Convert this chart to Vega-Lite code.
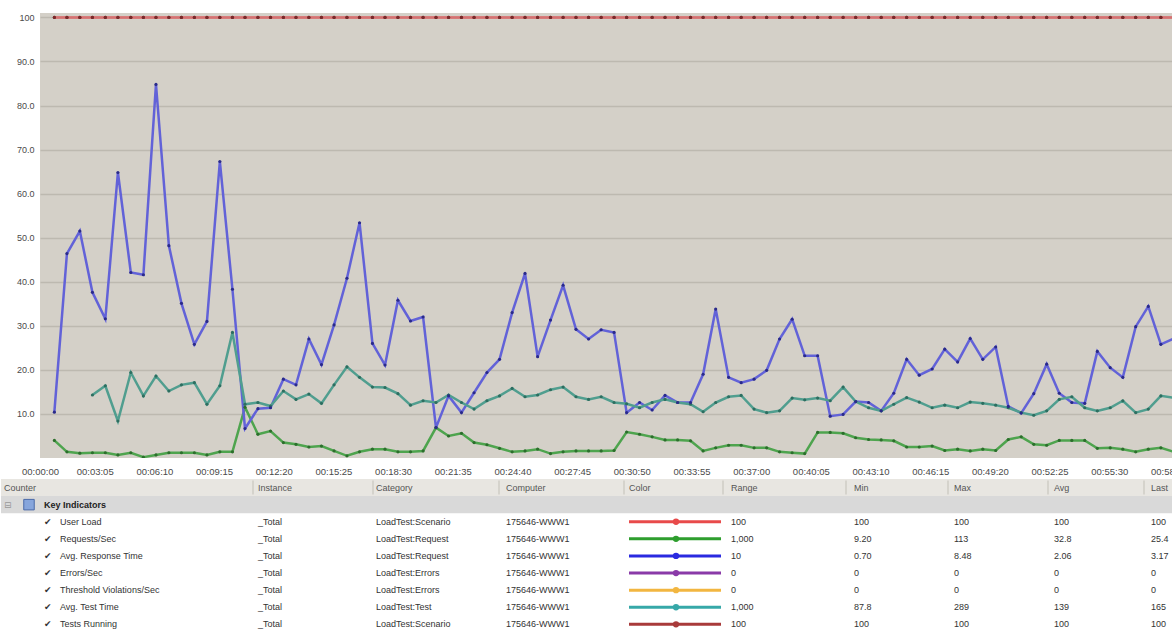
{
"$schema":"https://vega.github.io/schema/vega-lite/v6.json",
"background":"white",
"padding":{"left":0,"top":13,"right":0,"bottom":0},
"bounds":"flush",
"spacing":21,
"config":{"view":{"stroke":null},"font":"Liberation Sans"},
"resolve":{"scale":{"color":"independent","stroke":"independent","fill":"independent"}},
"datasets":{
"series":[
{"t":60,"resp":10.4,"rps":4.0,"user":100,"run":100},
{"t":99,"resp":46.4,"rps":1.4,"user":100,"run":100},
{"t":139,"resp":51.5,"rps":1.1,"user":100,"run":100},
{"t":178,"resp":37.6,"test":14.3,"rps":1.2,"user":100,"run":100},
{"t":218,"resp":31.6,"test":16.4,"rps":1.2,"user":100,"run":100},
{"t":257,"resp":64.8,"test":8.4,"rps":0.7,"user":100,"run":100},
{"t":297,"resp":42.1,"test":19.4,"rps":1.2,"user":100,"run":100},
{"t":336,"resp":41.6,"test":14.1,"rps":0.2,"user":100,"run":100},
{"t":375,"resp":84.8,"test":18.6,"rps":0.7,"user":100,"run":100},
{"t":415,"resp":48.2,"test":15.2,"rps":1.2,"user":100,"run":100},
{"t":454,"resp":35.1,"test":16.6,"rps":1.2,"user":100,"run":100},
{"t":494,"resp":25.8,"test":17.1,"rps":1.2,"user":100,"run":100},
{"t":533,"resp":31.0,"test":12.2,"rps":0.7,"user":100,"run":100},
{"t":573,"resp":67.3,"test":16.4,"rps":1.4,"user":100,"run":100},
{"t":612,"resp":38.3,"test":28.5,"rps":1.4,"user":100,"run":100},
{"t":651,"resp":6.7,"test":12.2,"rps":11.5,"user":100,"run":100},
{"t":691,"resp":11.2,"test":12.6,"rps":5.4,"user":100,"run":100},
{"t":730,"resp":11.4,"test":11.8,"rps":6.1,"user":100,"run":100},
{"t":770,"resp":17.9,"test":15.2,"rps":3.5,"user":100,"run":100},
{"t":809,"resp":16.6,"test":13.3,"rps":3.1,"user":100,"run":100},
{"t":849,"resp":27.0,"test":14.5,"rps":2.5,"user":100,"run":100},
{"t":888,"resp":21.2,"test":12.4,"rps":2.7,"user":100,"run":100},
{"t":927,"resp":30.2,"test":16.6,"rps":1.6,"user":100,"run":100},
{"t":967,"resp":40.8,"test":20.7,"rps":0.5,"user":100,"run":100},
{"t":1006,"resp":53.4,"test":18.3,"rps":1.4,"user":100,"run":100},
{"t":1046,"resp":26.0,"test":16.1,"rps":2.0,"user":100,"run":100},
{"t":1085,"resp":21.1,"test":16.0,"rps":2.0,"user":100,"run":100},
{"t":1125,"resp":35.8,"test":14.6,"rps":1.4,"user":100,"run":100},
{"t":1164,"resp":31.1,"test":12.0,"rps":1.4,"user":100,"run":100},
{"t":1203,"resp":32.0,"test":13.0,"rps":1.6,"user":100,"run":100},
{"t":1243,"resp":6.9,"test":12.6,"rps":6.9,"user":100,"run":100},
{"t":1282,"resp":14.1,"test":14.3,"rps":5.0,"user":100,"run":100},
{"t":1322,"resp":10.3,"test":12.6,"rps":5.6,"user":100,"run":100},
{"t":1361,"resp":14.8,"test":11.1,"rps":3.5,"user":100,"run":100},
{"t":1401,"resp":19.4,"test":13.0,"rps":3.0,"user":100,"run":100},
{"t":1440,"resp":22.4,"test":14.1,"rps":2.2,"user":100,"run":100},
{"t":1479,"resp":33.0,"test":15.8,"rps":1.4,"user":100,"run":100},
{"t":1519,"resp":41.9,"test":13.9,"rps":1.6,"user":100,"run":100},
{"t":1558,"resp":23.0,"test":14.3,"rps":2.0,"user":100,"run":100},
{"t":1598,"resp":31.3,"test":15.5,"rps":1.0,"user":100,"run":100},
{"t":1637,"resp":39.2,"test":16.1,"rps":1.4,"user":100,"run":100},
{"t":1677,"resp":29.2,"test":13.9,"rps":1.6,"user":100,"run":100},
{"t":1716,"resp":27.0,"test":13.3,"rps":1.6,"user":100,"run":100},
{"t":1755,"resp":29.1,"test":13.9,"rps":1.6,"user":100,"run":100},
{"t":1795,"resp":28.5,"test":12.6,"rps":1.7,"user":100,"run":100},
{"t":1834,"resp":10.3,"test":12.3,"rps":5.9,"user":100,"run":100},
{"t":1874,"resp":12.6,"test":11.4,"rps":5.4,"user":100,"run":100},
{"t":1913,"resp":10.9,"test":12.6,"rps":4.8,"user":100,"run":100},
{"t":1953,"resp":14.2,"test":13.3,"rps":4.1,"user":100,"run":100},
{"t":1992,"resp":12.6,"test":12.6,"rps":4.1,"user":100,"run":100},
{"t":2032,"resp":12.6,"test":12.2,"rps":3.9,"user":100,"run":100},
{"t":2071,"resp":19.0,"test":10.5,"rps":1.6,"user":100,"run":100},
{"t":2110,"resp":33.8,"test":12.6,"rps":2.3,"user":100,"run":100},
{"t":2150,"resp":18.3,"test":13.9,"rps":2.9,"user":100,"run":100},
{"t":2189,"resp":17.1,"test":14.2,"rps":2.9,"user":100,"run":100},
{"t":2229,"resp":17.9,"test":11.1,"rps":2.3,"user":100,"run":100},
{"t":2268,"resp":19.9,"test":10.3,"rps":2.3,"user":100,"run":100},
{"t":2308,"resp":27.0,"test":10.7,"rps":1.4,"user":100,"run":100},
{"t":2347,"resp":31.5,"test":13.6,"rps":1.2,"user":100,"run":100},
{"t":2386,"resp":23.2,"test":13.2,"rps":1.0,"user":100,"run":100},
{"t":2426,"resp":23.2,"test":13.6,"rps":5.8,"user":100,"run":100},
{"t":2465,"resp":9.5,"test":13.0,"rps":5.8,"user":100,"run":100},
{"t":2505,"resp":9.9,"test":16.1,"rps":5.6,"user":100,"run":100},
{"t":2544,"resp":12.8,"test":12.8,"rps":4.6,"user":100,"run":100},
{"t":2584,"resp":12.6,"test":11.4,"rps":4.2,"user":100,"run":100},
{"t":2623,"resp":10.7,"test":10.7,"rps":4.1,"user":100,"run":100},
{"t":2662,"resp":14.7,"test":12.2,"rps":3.9,"user":100,"run":100},
{"t":2702,"resp":22.4,"test":13.7,"rps":2.5,"user":100,"run":100},
{"t":2741,"resp":18.8,"test":12.7,"rps":2.5,"user":100,"run":100},
{"t":2781,"resp":20.2,"test":11.4,"rps":2.7,"user":100,"run":100},
{"t":2820,"resp":24.7,"test":12.0,"rps":1.7,"user":100,"run":100},
{"t":2860,"resp":21.8,"test":11.4,"rps":2.0,"user":100,"run":100},
{"t":2899,"resp":27.1,"test":12.7,"rps":1.6,"user":100,"run":100},
{"t":2938,"resp":22.4,"test":12.4,"rps":2.0,"user":100,"run":100},
{"t":2978,"resp":25.2,"test":12.0,"rps":1.7,"user":100,"run":100},
{"t":3017,"resp":11.7,"test":11.4,"rps":4.2,"user":100,"run":100},
{"t":3057,"resp":10.2,"test":10.3,"rps":4.8,"user":100,"run":100},
{"t":3096,"resp":14.6,"test":9.7,"rps":3.1,"user":100,"run":100},
{"t":3136,"resp":21.3,"test":10.7,"rps":2.9,"user":100,"run":100},
{"t":3175,"resp":14.7,"test":13.3,"rps":4.0,"user":100,"run":100},
{"t":3214,"resp":12.6,"test":13.9,"rps":4.0,"user":100,"run":100},
{"t":3254,"resp":12.4,"test":11.4,"rps":4.0,"user":100,"run":100},
{"t":3293,"resp":24.2,"test":10.7,"rps":2.2,"user":100,"run":100},
{"t":3333,"resp":20.5,"test":11.4,"rps":2.3,"user":100,"run":100},
{"t":3372,"resp":18.3,"test":13.0,"rps":2.0,"user":100,"run":100},
{"t":3412,"resp":29.8,"test":10.3,"rps":1.4,"user":100,"run":100},
{"t":3451,"resp":34.4,"test":11.1,"rps":2.0,"user":100,"run":100},
{"t":3490,"resp":25.8,"test":14.1,"rps":2.3,"user":100,"run":100},
{"t":3530,"resp":27.1,"test":13.7,"rps":1.4,"user":100,"run":100}
],
"table":[
{"row":"h","name":"Counter","instance":"Instance","category":"Category","computer":"Computer","color":"Color","range":"Range","min":"Min","max":"Max","avg":"Avg","last":"Last"},
{"row":"g","group":"Key Indicators"},
{"row":"1","name":"User Load","instance":"_Total","category":"LoadTest:Scenario","computer":"175646-WWW1","range":"100","min":"100","max":"100","avg":"100","last":"100"},
{"row":"2","name":"Requests/Sec","instance":"_Total","category":"LoadTest:Request","computer":"175646-WWW1","range":"1,000","min":"9.20","max":"113","avg":"32.8","last":"25.4"},
{"row":"3","name":"Avg. Response Time","instance":"_Total","category":"LoadTest:Request","computer":"175646-WWW1","range":"10","min":"0.70","max":"8.48","avg":"2.06","last":"3.17"},
{"row":"4","name":"Errors/Sec","instance":"_Total","category":"LoadTest:Errors","computer":"175646-WWW1","range":"0","min":"0","max":"0","avg":"0","last":"0"},
{"row":"5","name":"Threshold Violations/Sec","instance":"_Total","category":"LoadTest:Errors","computer":"175646-WWW1","range":"0","min":"0","max":"0","avg":"0","last":"0"},
{"row":"6","name":"Avg. Test Time","instance":"_Total","category":"LoadTest:Test","computer":"175646-WWW1","range":"1,000","min":"87.8","max":"289","avg":"139","last":"165"},
{"row":"7","name":"Tests Running","instance":"_Total","category":"LoadTest:Scenario","computer":"175646-WWW1","range":"100","min":"100","max":"100","avg":"100","last":"100"}
],
"seps":[{"k":5},{"k":7},{"k":9},{"k":11},{"k":15},{"k":17},{"k":19},{"k":21},{"k":23}]
},
"vconcat":[
{
"width":1133,"height":445,
"view":{"fill":"#d4d0c8","stroke":null},
"data":{"name":"series"},
"transform":[{"fold":["rps","test","resp","user","run"],"as":["counter","value"]},{"filter":"isValid(datum.value)"}],
"encoding":{
"x":{"field":"t","type":"quantitative","scale":{"domain":[15.5,3527.6],"nice":false,"zero":false},
"axis":{"values":[15.5,185,370,555,740,925,1110,1295,1480,1665,1850,2035,2220,2405,2590,2775,2960,3145,3330,3515],"labelExpr":"utcFormat(round(datum.value/185)*185000,'%H:%M:%S')","title":null,"grid":false,"domain":false,"ticks":false,"labelFont":"Liberation Sans","labelFontSize":9.5,"labelColor":"#4a4a4a","labelPadding":8,"labelOverlap":false,"labelFlush":false,"labelBound":false}},
"y":{"field":"value","type":"quantitative","scale":{"domain":[0,101],"nice":false,"zero":true},
"axis":{"values":[10,20,30,40,50,60,70,80,90,100],"labelExpr":"datum.value==100?'100':format(datum.value,'.1f')","title":null,"grid":true,"gridColor":"#bdb9b0","gridWidth":1.5,"domain":false,"ticks":false,"labelPadding":6,"labelFont":"Liberation Sans","labelFontSize":9,"labelColor":"#4a4a4a"}}
},
"layer":[
{"mark":{"type":"line","strokeWidth":2.5,"clip":true},
"encoding":{"stroke":{"field":"counter","type":"nominal","scale":{"domain":["rps","test","resp","user","run"],"range":["#4ea44e","#509e8f","#6262d8","#e48a8a","#d47272"]},"legend":null}}},
{"mark":{"type":"point","filled":true,"size":10,"opacity":1,"clip":true},
"encoding":{"fill":{"field":"counter","type":"nominal","scale":{"domain":["rps","test","resp","user","run"],"range":["#2c6e2c","#2d6e60","#2a2a8a","#7a2a2a","#7a2a2a"]},"legend":null}}}
]
},
{
"width":1133,"height":153.9,
"view":{"stroke":null},
"data":{"name":"table"},
"encoding":{"y":{"field":"row","type":"ordinal","scale":{"domain":["h","g","1","2","3","4","5","6","7"],"paddingInner":0,"paddingOuter":0},"axis":null}},
"layer":[
{"transform":[{"filter":"datum.row=='h'"}],"mark":{"type":"rect","fill":"#e8e6e1"},
"encoding":{"x":{"datum":0,"type":"quantitative","scale":{"type":"linear","domain":[0,1,2,3,4,5,6,7,8,9,10,11,12,13,14,15,16,17,18,19,20,21,22,23,24,25],"range":[-39,-36,-11,4,20,213,218,333,336,459,466,584,589,636,681,683,691,806,814,908,914,1008,1014,1104,1111,1133],"zero":false,"nice":false}},"x2":{"datum":25}}},
{"transform":[{"filter":"datum.row=='g'"}],"mark":{"type":"rect","fill":"#d9d9d9"},
"encoding":{"x":{"datum":0,"type":"quantitative"},"x2":{"datum":25}}},
{"data":{"name":"seps"},"mark":{"type":"tick","orient":"vertical","color":"#b5b2aa","thickness":1,"size":14},
"encoding":{"x":{"field":"k","type":"quantitative"},"y":{"datum":"h","type":"ordinal"}}},
{"transform":[{"filter":"datum.row=='h'"}],"mark":{"type":"text","align":"left","fontSize":9,"color":"#555555"},
"encoding":{"x":{"datum":1,"type":"quantitative"},"text":{"field":"name"}}},
{"transform":[{"filter":"datum.row=='h'"}],"mark":{"type":"text","align":"left","fontSize":9,"color":"#555555"},
"encoding":{"x":{"datum":12,"type":"quantitative"},"text":{"field":"color"}}},
{"transform":[{"filter":"datum.row=='g'"}],"mark":{"type":"text","align":"left","fontSize":9,"fontWeight":"bold","color":"#222222"},
"encoding":{"x":{"datum":3,"type":"quantitative"},"text":{"field":"group"}}},
{"transform":[{"filter":"datum.row=='g'"}],"mark":{"type":"text","align":"left","fontSize":9,"font":"DejaVu Sans","color":"#999999","text":"⊟"},
"encoding":{"x":{"datum":1,"type":"quantitative"}}},
{"transform":[{"filter":"datum.row=='g'"}],"mark":{"type":"point","shape":"square","filled":true,"size":110,"color":"#86a5dc","stroke":"#4a6aa8","strokeWidth":1,"opacity":1},
"encoding":{"x":{"datum":2,"type":"quantitative"}}},
{"transform":[{"filter":"datum.row!='h' && datum.row!='g'"}],"mark":{"type":"text","align":"left","fontSize":9,"font":"DejaVu Sans","color":"#333333","text":"✔"},
"encoding":{"x":{"datum":3,"type":"quantitative"}}},
{"transform":[{"filter":"datum.row!='h' && datum.row!='g'"}],"mark":{"type":"text","align":"left","fontSize":9,"color":"#333333"},
"encoding":{"x":{"datum":4,"type":"quantitative"},"text":{"field":"name"}}},
{"transform":[{"filter":"datum.row!='g'"}],"mark":{"type":"text","align":"left","fontSize":9},
"encoding":{"x":{"datum":6,"type":"quantitative"},"text":{"field":"instance"},"color":{"condition":{"test":"datum.row=='h'","value":"#555555"},"value":"#333333"}}},
{"transform":[{"filter":"datum.row!='g'"}],"mark":{"type":"text","align":"left","fontSize":9},
"encoding":{"x":{"datum":8,"type":"quantitative"},"text":{"field":"category"},"color":{"condition":{"test":"datum.row=='h'","value":"#555555"},"value":"#333333"}}},
{"transform":[{"filter":"datum.row!='g'"}],"mark":{"type":"text","align":"left","fontSize":9},
"encoding":{"x":{"datum":10,"type":"quantitative"},"text":{"field":"computer"},"color":{"condition":{"test":"datum.row=='h'","value":"#555555"},"value":"#333333"}}},
{"transform":[{"filter":"datum.row!='g'"}],"mark":{"type":"text","align":"left","fontSize":9},
"encoding":{"x":{"datum":16,"type":"quantitative"},"text":{"field":"range"},"color":{"condition":{"test":"datum.row=='h'","value":"#555555"},"value":"#333333"}}},
{"transform":[{"filter":"datum.row!='g'"}],"mark":{"type":"text","align":"left","fontSize":9},
"encoding":{"x":{"datum":18,"type":"quantitative"},"text":{"field":"min"},"color":{"condition":{"test":"datum.row=='h'","value":"#555555"},"value":"#333333"}}},
{"transform":[{"filter":"datum.row!='g'"}],"mark":{"type":"text","align":"left","fontSize":9},
"encoding":{"x":{"datum":20,"type":"quantitative"},"text":{"field":"max"},"color":{"condition":{"test":"datum.row=='h'","value":"#555555"},"value":"#333333"}}},
{"transform":[{"filter":"datum.row!='g'"}],"mark":{"type":"text","align":"left","fontSize":9},
"encoding":{"x":{"datum":22,"type":"quantitative"},"text":{"field":"avg"},"color":{"condition":{"test":"datum.row=='h'","value":"#555555"},"value":"#333333"}}},
{"transform":[{"filter":"datum.row!='g'"}],"mark":{"type":"text","align":"left","fontSize":9},
"encoding":{"x":{"datum":24,"type":"quantitative"},"text":{"field":"last"},"color":{"condition":{"test":"datum.row=='h'","value":"#555555"},"value":"#333333"}}},
{"transform":[{"filter":"datum.row!='h' && datum.row!='g'"}],"mark":{"type":"rule","strokeWidth":3},
"encoding":{"x":{"datum":12,"type":"quantitative"},"x2":{"datum":14},"color":{"field":"name","type":"nominal","scale":{"domain":["User Load","Requests/Sec","Avg. Response Time","Errors/Sec","Threshold Violations/Sec","Avg. Test Time","Tests Running"],"range":["#e84a4a","#2e9e2e","#2a2ae0","#8a3aa8","#f2b640","#36a8a8","#a83a3a"]},"legend":null}}},
{"transform":[{"filter":"datum.row!='h' && datum.row!='g'"}],"mark":{"type":"point","filled":true,"size":40,"opacity":1},
"encoding":{"x":{"datum":13,"type":"quantitative"},"color":{"field":"name","type":"nominal","legend":null}}}
]
}
]
}
